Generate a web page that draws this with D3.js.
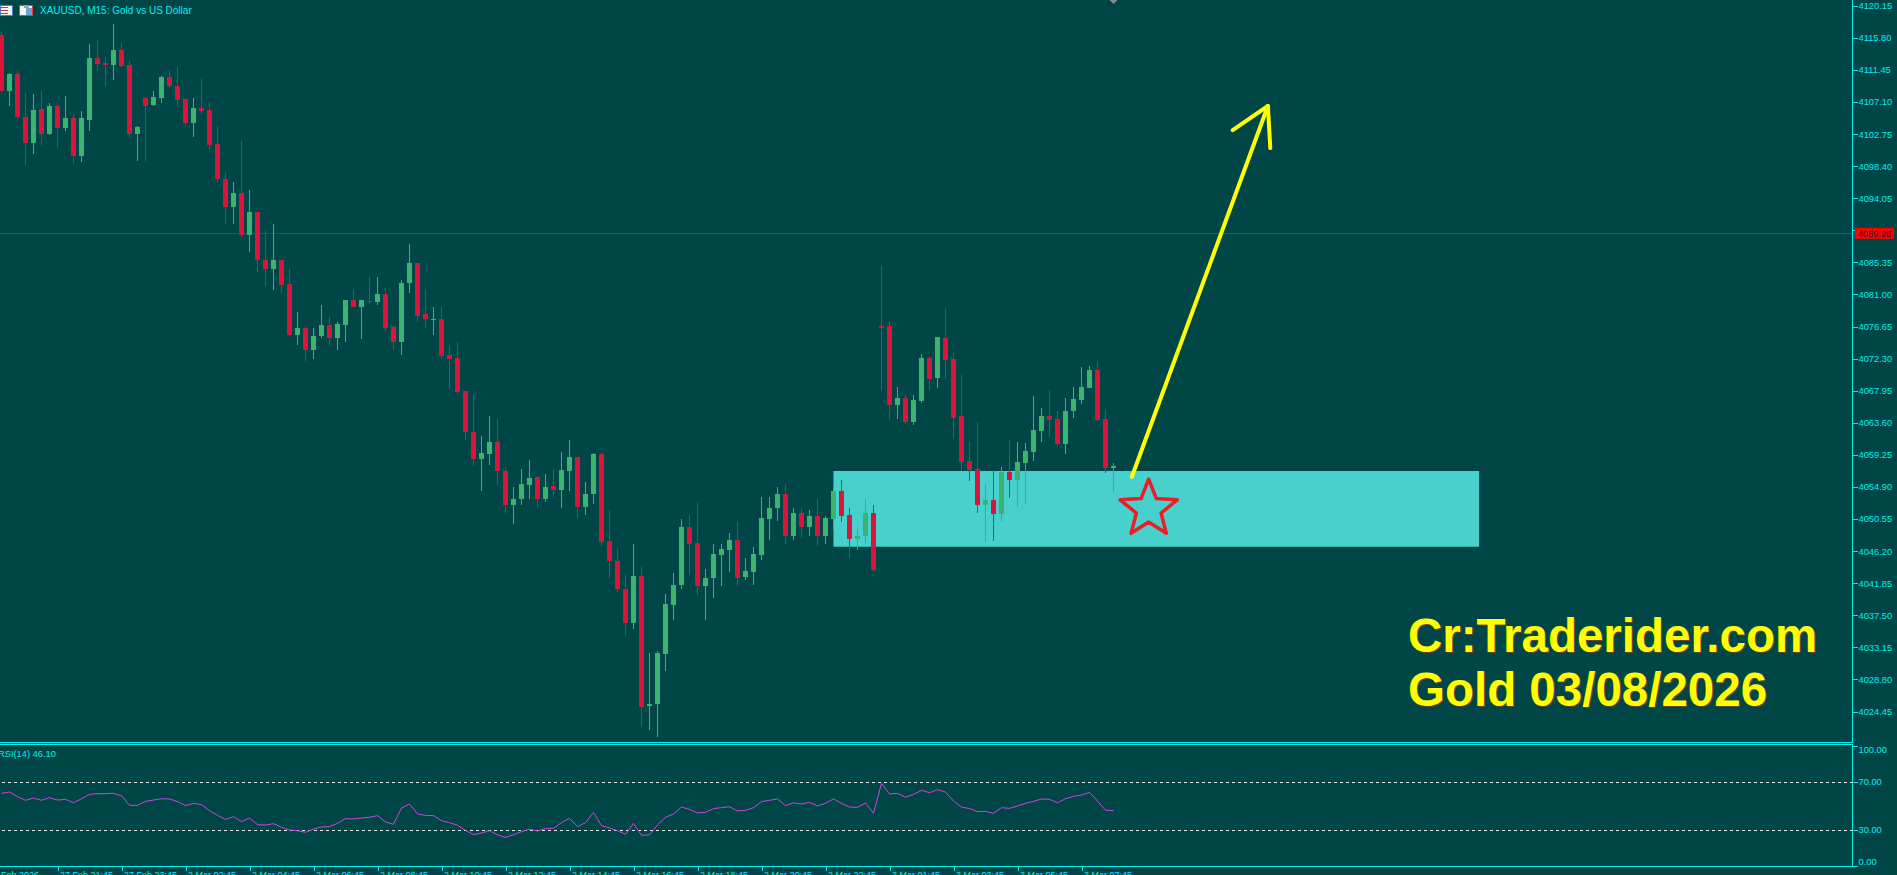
<!DOCTYPE html>
<html>
<head>
<meta charset="utf-8">
<script src="https://cdn.jsdelivr.net/npm/d3@7"></script>
<style>
  html, body { margin: 0; padding: 0; background: #014647; overflow: hidden; }
  svg { display: block; }
  text { font-family: "Liberation Sans", Arial, sans-serif; }
</style>
</head>
<body>
<svg id="chart"></svg>
<script>
// XAUUSD M15 candles (bar 0 = 27 Feb 20:00)
var opens = [
  4116.2,4108.6,4110.9,4105.1,4101.6,4106.1,4102.7,4106.5,4103.5,4104.9,
  4099.8,4104.7,4113.1,4112.4,4112.1,4114.1,4112.1,4102.7,4107.6,4106.7,
  4107.7,4110.5,4109.3,4107.5,4104.3,4106.3,4106.0,4101.4,4096.6,4092.9,
  4094.8,4089.0,4092.2,4085.7,4084.4,4085.7,4082.4,4075.5,4076.4,4073.5,
  4075.3,4076.8,4075.1,4076.9,4080.3,4079.3,4080.1,4080.0,4081.1,4076.6,
  4074.5,4082.5,4085.2,4078.3,4077.6,4077.7,4072.8,4072.4,4067.9,4062.3,
  4058.7,4059.4,4061.0,4057.1,4052.5,4053.2,4055.2,4056.2,4053.3,4055.0,
  4054.5,4057.1,4059.0,4052.2,4053.9,4059.4,4047.6,4044.9,4041.1,4036.5,
  4042.8,4025.2,4025.4,4032.2,4038.9,4041.6,4049.5,4047.3,4041.4,4042.5,
  4045.7,4046.4,4047.7,4042.7,4043.4,4045.7,4050.6,4052.0,4053.9,4048.3,
  4051.3,4049.5,4051.0,4048.2,4050.6,4054.4,4051.1,4047.9,4048.2,4051.3,
  4076.7,4076.7,4066.0,4067.0,4063.7,4066.5,4072.4,4069.7,4075.1,4072.2,
  4064.5,4058.4,4057.3,4052.4,4053.1,4051.2,4056.9,4055.8,4058.1,4059.6,
  4062.5,4064.5,4064.1,4060.7,4065.2,4066.7,4068.3,4070.8,4064.1,4057.5
];
var highs = [
  4116.6,4111.0,4111.3,4108.3,4108.2,4108.6,4107.0,4107.0,4107.9,4105.3,
  4105.9,4115.0,4115.5,4113.2,4117.7,4115.1,4112.7,4103.8,4107.8,4108.6,
  4110.6,4111.4,4111.8,4107.6,4107.6,4110.2,4107.1,4103.8,4097.6,4096.2,
  4101.8,4095.2,4092.2,4089.6,4090.6,4085.7,4084.5,4078.6,4076.6,4076.4,
  4079.6,4077.9,4077.3,4080.3,4081.8,4080.3,4083.4,4083.3,4081.9,4076.8,
  4083.0,4087.8,4085.3,4081.8,4079.3,4079.3,4074.1,4074.6,4067.9,4067.4,
  4061.8,4064.5,4064.1,4057.6,4054.9,4057.3,4058.6,4056.4,4056.7,4057.3,
  4059.6,4061.3,4059.0,4055.6,4059.5,4059.5,4051.8,4046.6,4043.0,4047.2,
  4044.0,4032.4,4032.7,4040.4,4043.2,4050.6,4051.1,4052.7,4043.8,4047.1,
  4047.2,4048.7,4050.2,4045.3,4046.7,4053.6,4053.6,4054.9,4055.3,4052.0,
  4052.0,4051.8,4053.2,4050.9,4054.9,4055.9,4052.0,4049.2,4053.3,4052.4,
  4084.9,4077.4,4068.4,4067.4,4067.4,4072.9,4072.7,4075.2,4079.2,4073.1,
  4070.1,4061.0,4063.7,4055.3,4057.2,4057.6,4061.3,4061.0,4060.9,4067.2,
  4065.6,4068.0,4065.2,4067.0,4068.4,4071.2,4071.3,4072.0,4065.5,4058.1
];
var lows = [
  4108.4,4106.6,4104.8,4098.5,4100.0,4101.2,4102.6,4100.9,4103.1,4098.7,
  4098.9,4103.1,4111.3,4109.2,4110.1,4111.8,4102.3,4099.1,4099.1,4106.5,
  4107.0,4109.0,4106.6,4103.9,4102.3,4105.4,4100.6,4096.2,4090.5,4090.6,
  4088.8,4086.7,4084.0,4082.1,4081.6,4081.2,4075.4,4074.1,4072.0,4072.3,
  4075.1,4074.3,4073.4,4074.6,4079.3,4074.9,4079.7,4079.6,4076.0,4073.5,
  4072.8,4081.2,4077.3,4076.5,4075.5,4072.2,4068.2,4067.7,4061.3,4057.8,
  4054.3,4057.9,4055.2,4051.4,4049.9,4052.4,4053.3,4052.1,4052.9,4053.6,
  4052.0,4054.3,4050.7,4051.1,4052.6,4046.9,4042.5,4040.7,4034.7,4035.7,
  4022.4,4022.0,4021.0,4030.0,4036.8,4041.1,4042.9,4040.3,4036.8,4039.9,
  4041.5,4043.3,4041.4,4042.3,4041.6,4045.0,4047.7,4050.3,4047.2,4047.7,
  4048.0,4048.3,4046.9,4047.2,4049.0,4050.2,4045.3,4046.4,4047.3,4043.4,
  4068.1,4064.0,4064.1,4063.4,4063.3,4066.3,4068.0,4068.3,4069.5,4061.4,
  4057.1,4055.7,4051.4,4047.4,4047.6,4050.1,4053.4,4052.2,4052.6,4058.4,
  4061.0,4061.7,4060.4,4059.4,4064.2,4066.1,4068.3,4063.8,4056.8,4054.2
];
var closes = [
  4108.6,4110.9,4105.0,4101.6,4106.0,4102.7,4106.5,4103.5,4104.9,4099.8,
  4104.9,4113.1,4112.3,4112.1,4114.1,4112.0,4102.8,4103.7,4106.6,4107.8,
  4110.5,4109.2,4107.4,4104.3,4106.3,4105.9,4101.3,4096.6,4092.9,4094.8,
  4089.0,4092.2,4085.7,4084.4,4085.7,4082.3,4075.5,4076.4,4073.5,4075.4,
  4076.8,4075.1,4077.0,4080.3,4079.3,4080.2,4080.0,4081.1,4076.5,4074.5,
  4082.6,4085.2,4078.1,4077.7,4077.7,4072.7,4072.2,4067.8,4062.3,4058.7,
  4059.5,4061.0,4057.0,4052.5,4053.3,4055.3,4056.1,4053.3,4054.9,4054.5,
  4057.2,4059.0,4052.2,4053.9,4059.4,4047.5,4044.8,4041.0,4036.5,4042.8,
  4025.1,4025.5,4032.4,4039.0,4041.6,4049.5,4047.1,4041.4,4042.6,4045.8,
  4046.5,4047.7,4042.6,4043.5,4045.8,4050.7,4052.1,4053.9,4048.3,4051.3,
  4049.5,4051.0,4048.2,4050.7,4054.4,4051.0,4047.9,4048.3,4051.3,4043.7,
  4076.5,4066.0,4067.0,4063.7,4066.7,4072.4,4069.5,4075.2,4072.1,4064.3,
  4058.3,4057.2,4052.4,4053.1,4051.2,4056.9,4055.8,4058.3,4059.8,4062.6,
  4064.5,4064.0,4060.7,4065.2,4066.8,4068.4,4070.8,4064.0,4057.5,4057.7
];

// RSI(14), one value per bar
var rsiValues = [
  60.4,61.5,57.6,54.6,56.5,54.6,56.8,54.8,55.4,52.6,
  55.9,59.5,60.1,60.1,60.4,58.4,50.4,50.4,53.7,54.8,
  55.9,55.7,53.5,50.2,52.1,51.0,46.0,42.1,38.8,41.0,
  36.9,39.9,34.4,34.1,35.2,32.2,30.0,29.4,28.1,30.8,
  32.5,32.8,35.5,39.4,39.1,39.9,40.5,41.9,36.6,34.7,
  48.2,51.5,43.3,42.1,41.9,37.7,36.1,33.9,29.7,26.1,
  27.5,29.4,25.9,23.9,26.1,28.6,30.6,29.2,31.1,31.4,
  36.1,39.7,32.8,36.1,44.6,33.6,31.7,29.4,26.4,35.5,
  25.6,25.9,34.1,40.5,43.3,49.0,47.1,44.1,44.6,47.7,
  48.5,49.3,45.7,46.3,48.5,53.5,54.6,55.7,50.2,52.6,
  51.5,52.9,49.9,52.1,55.7,52.1,49.0,48.8,52.4,43.8,
  68.6,59.8,60.4,57.1,59.5,62.9,60.9,63.4,61.5,54.0,
  49.0,47.7,45.2,45.5,43.8,48.5,47.9,49.9,52.1,53.7,
  55.7,55.4,52.6,55.9,57.9,59.0,61.2,54.0,46.4,46.1
];

// axis ticks
var priceTicks = [
  4120.15,4115.80,4111.45,4107.10,4102.75,4098.40,4094.05,4089.70,
  4085.35,4081.00,4076.65,4072.30,4067.95,4063.60,4059.25,4054.90,
  4050.55,4046.20,4041.85,4037.50,4033.15,4028.80,4024.45
];
var rsiTicks = [100, 70, 30, 0];
var rsiLevels = [70, 30];
var timeTickBars = [7,15,23,31,39,47,55,63,71,79,87,95,103,111,119,127,135];
var timeLabels = [
  '27 Feb 21:45','27 Feb 23:45','2 Mar 02:45','2 Mar 04:45','2 Mar 06:45',
  '2 Mar 08:45','2 Mar 10:45','2 Mar 12:45','2 Mar 14:45','2 Mar 16:45',
  '2 Mar 18:45','2 Mar 20:45','2 Mar 22:45','3 Mar 01:45','3 Mar 03:45',
  '3 Mar 05:45','3 Mar 07:45'
];
var firstDateLabel = '27 Feb 2026';

// drawn objects (bar index, price)
var hLinePrice = 4089.28;
var zoneBars = [104, 184.7];
var zonePrices = [4057.06, 4046.79];
var arrowShaft = [[141.3, 4056.28], [158.3, 4106.55]];
var arrowHead = [[153.9, 4103.29], [158.3, 4106.55], [158.6, 4100.85]];
var starAt = [143.4, 4051.9];

var W = 1897, H = 875,
    BG = '#014647',
    FG = '#00f0f0',
    BULL = '#3cb371',
    BEAR = '#dc143c',
    axisX = 1852.5;

var x = d3.scaleLinear().domain([0, 139]).range([1.5, 1113.5]);
var y = d3.scaleLinear().domain([4120.15, 4024.45]).range([5.7, 711.5]);
var yr = d3.scaleLinear().domain([100, 0]).range([745.5, 866.2]);

var candles = opens.map(function(o, i) {
    return { i: i, o: o, h: highs[i], l: lows[i], c: closes[i] };
});
function candleColor(d) { return d.c >= d.o ? BULL : BEAR; }

var svg = d3.select('#chart')
    .attr('width', W)
    .attr('height', H);

svg.append('rect')
    .attr('width', W)
    .attr('height', H)
    .attr('fill', BG);

// Support zone (background object)
svg.append('rect')
    .attr('x', x(zoneBars[0]))
    .attr('y', y(zonePrices[0]))
    .attr('width', x(zoneBars[1]) - x(zoneBars[0]))
    .attr('height', y(zonePrices[1]) - y(zonePrices[0]))
    .attr('fill', '#48d1cc');

// Horizontal line
svg.append('line')
    .attr('x1', 0).attr('x2', axisX)
    .attr('y1', Math.round(y(hLinePrice)) + 0.5)
    .attr('y2', Math.round(y(hLinePrice)) + 0.5)
    .attr('stroke', '#c81414')
    .attr('stroke-width', 1);

// Candles
var cg = svg.append('g').attr('shape-rendering', 'crispEdges');

cg.selectAll('rect.wick')
    .data(candles)
    .enter()
    .append('rect')
    .classed('wick', true)
    .attr('x', function(d) { return Math.floor(x(d.i)); })
    .attr('width', 1)
    .attr('y', function(d) { return y(d.h); })
    .attr('height', function(d) { return Math.max(1, y(d.l) - y(d.h)); })
    .attr('fill', candleColor);

cg.selectAll('rect.body')
    .data(candles)
    .enter()
    .append('rect')
    .classed('body', true)
    .attr('x', function(d) { return Math.floor(x(d.i)) - 2; })
    .attr('width', 5)
    .attr('y', function(d) { return y(Math.max(d.o, d.c)); })
    .attr('height', function(d) { return Math.max(1, Math.abs(y(d.o) - y(d.c))); })
    .attr('fill', candleColor);

// Arrow
var ptLine = d3.line()
    .x(function(d) { return x(d[0]); })
    .y(function(d) { return y(d[1]); });

svg.append('path')
    .attr('d', ptLine(arrowShaft))
    .attr('fill', 'none')
    .attr('stroke', '#ffff00')
    .attr('stroke-width', 4)
    .attr('stroke-linecap', 'round');

svg.append('path')
    .attr('d', ptLine(arrowHead))
    .attr('fill', 'none')
    .attr('stroke', '#ffff00')
    .attr('stroke-width', 4)
    .attr('stroke-linecap', 'round')
    .attr('stroke-linejoin', 'round');

// Star
var starPts = d3.range(10).map(function(k) {
    return [k * Math.PI / 5, k % 2 ? 13 : 30];
});
svg.append('path')
    .attr('transform', 'translate(' + x(starAt[0]) + ',' + y(starAt[1]) + ')')
    .attr('d', d3.lineRadial().curve(d3.curveLinearClosed)(starPts))
    .attr('fill', 'none')
    .attr('stroke', '#ee1c25')
    .attr('stroke-width', 3.5)
    .attr('stroke-linejoin', 'round');

// Watermark
var wm = svg.append('g')
    .attr('font-size', '47.5px')
    .attr('font-weight', 'bold');
[['Cr:Traderider.com', 652], ['Gold 03/08/2026', 706]].forEach(function(t) {
    wm.append('text').attr('x', 1409).attr('y', t[1] + 1)
        .attr('fill', '#9a3a1a').attr('opacity', 0.7).text(t[0]);
    wm.append('text').attr('x', 1408).attr('y', t[1])
        .attr('fill', '#ffff00').text(t[0]);
});

// Frame lines
var frame = svg.append('g')
    .attr('stroke', FG)
    .attr('stroke-width', 1)
    .attr('shape-rendering', 'crispEdges');
frame.append('line').attr('x1', axisX).attr('x2', axisX).attr('y1', 0).attr('y2', 742.5);
frame.append('line').attr('x1', 0).attr('x2', axisX).attr('y1', 742.5).attr('y2', 742.5);
frame.append('line').attr('x1', 0).attr('x2', axisX).attr('y1', 744.5).attr('y2', 744.5);
frame.append('line').attr('x1', axisX).attr('x2', axisX).attr('y1', 744.5).attr('y2', 866.5);
frame.append('line').attr('x1', 0).attr('x2', axisX).attr('y1', 866.5).attr('y2', 866.5);

// Price axis
var yAxis = d3.axisRight(y)
    .tickValues(priceTicks)
    .tickSize(5)
    .tickPadding(1)
    .tickFormat(d3.format('.2f'));

var ya = svg.append('g')
    .attr('transform', 'translate(' + axisX + ',0)')
    .call(yAxis);
ya.select('.domain').remove();
ya.selectAll('line').attr('stroke', FG).attr('shape-rendering', 'crispEdges');
ya.selectAll('text').attr('fill', FG).attr('font-size', '9.3px')
    .attr('font-family', '"Liberation Sans", Arial, sans-serif');

// Price label of the horizontal line
var hy = y(hLinePrice);
svg.append('rect')
    .attr('x', 1855).attr('y', hy - 5.5)
    .attr('width', 39).attr('height', 11)
    .attr('fill', '#ff0000');
svg.append('text')
    .attr('x', 1874.5).attr('y', hy + 3.3)
    .attr('text-anchor', 'middle')
    .attr('font-size', '9.3px')
    .attr('fill', '#1a1a1a')
    .text(hLinePrice.toFixed(2));

// RSI panel
svg.append('g')
    .selectAll('line')
    .data(rsiLevels)
    .enter()
    .append('line')
    .attr('x1', 2).attr('x2', axisX)
    .attr('y1', function(d) { return Math.round(yr(d)) + 0.5; })
    .attr('y2', function(d) { return Math.round(yr(d)) + 0.5; })
    .attr('stroke', '#f0f0f0')
    .attr('stroke-dasharray', '3,3')
    .attr('shape-rendering', 'crispEdges');

svg.append('path')
    .datum(rsiValues)
    .attr('d', d3.line()
        .x(function(d, i) { return x(i); })
        .y(function(d) { return yr(d); }))
    .attr('fill', 'none')
    .attr('stroke', '#cc44dd')
    .attr('stroke-width', 1);

var rAxis = d3.axisRight(yr)
    .tickValues(rsiTicks)
    .tickSize(5)
    .tickPadding(1)
    .tickFormat(d3.format('.2f'));

var ra = svg.append('g')
    .attr('transform', 'translate(' + axisX + ',0)')
    .call(rAxis);
ra.select('.domain').remove();
ra.selectAll('line').attr('stroke', FG).attr('shape-rendering', 'crispEdges');
ra.selectAll('text').attr('fill', FG).attr('font-size', '9.3px')
    .attr('font-family', '"Liberation Sans", Arial, sans-serif')
    .attr('dy', function(d) { return d === 100 ? '0.75em' : (d === 0 ? '-0.15em' : '0.32em'); });

svg.append('text')
    .attr('x', -2).attr('y', 757)
    .attr('font-size', '9.3px')
    .attr('fill', FG)
    .text('RSI(14) ' + rsiValues[rsiValues.length - 1].toFixed(2));

// Time axis
var xAxis = d3.axisBottom(x)
    .tickValues(timeTickBars)
    .tickSize(4)
    .tickPadding(1)
    .tickFormat(function(d, i) { return timeLabels[i]; });

var xa = svg.append('g')
    .attr('transform', 'translate(0,866.5)')
    .call(xAxis);
xa.select('.domain').remove();
xa.selectAll('line').attr('stroke', FG).attr('shape-rendering', 'crispEdges');
xa.selectAll('text')
    .attr('fill', FG)
    .attr('font-size', '9px')
    .attr('font-family', '"Liberation Sans", Arial, sans-serif')
    .attr('text-anchor', 'start')
    .attr('dx', 2);

svg.append('text')
    .attr('x', 39).attr('y', 878)
    .attr('text-anchor', 'end')
    .attr('font-size', '9px')
    .attr('fill', FG)
    .text(firstDateLabel);

// Title and icons
var icons = svg.append('g').attr('shape-rendering', 'crispEdges');
icons.append('rect').attr('x', 0.5).attr('y', 5.5).attr('width', 12).attr('height', 10)
    .attr('fill', '#f4f4f4').attr('stroke', '#4a7fc0');
[7.5, 10.5, 13.5].forEach(function(v) {
    icons.append('line').attr('x1', 1).attr('x2', 8).attr('y1', v).attr('y2', v)
        .attr('stroke', '#e03030');
});
icons.append('rect').attr('x', 19.5).attr('y', 5.5).attr('width', 13).attr('height', 10)
    .attr('fill', '#f4f4f4').attr('stroke', '#e04040');
icons.append('rect').attr('x', 26).attr('y', 8).attr('width', 6).attr('height', 7)
    .attr('fill', '#6a9fd8');
icons.append('rect').attr('x', 24).attr('y', 5).attr('width', 5).attr('height', 3)
    .attr('fill', '#a0a0a0');

svg.append('text')
    .attr('x', 40).attr('y', 14.3)
    .attr('font-size', '10px')
    .attr('fill', FG)
    .text('XAUUSD, M15:  Gold vs US Dollar');

// chart shift marker
svg.append('path')
    .attr('transform', 'translate(' + x(139) + ',0)')
    .attr('d', 'M-4,0L4,0L0,4Z')
    .attr('fill', '#8a8a8a');
</script>
</body>
</html>
